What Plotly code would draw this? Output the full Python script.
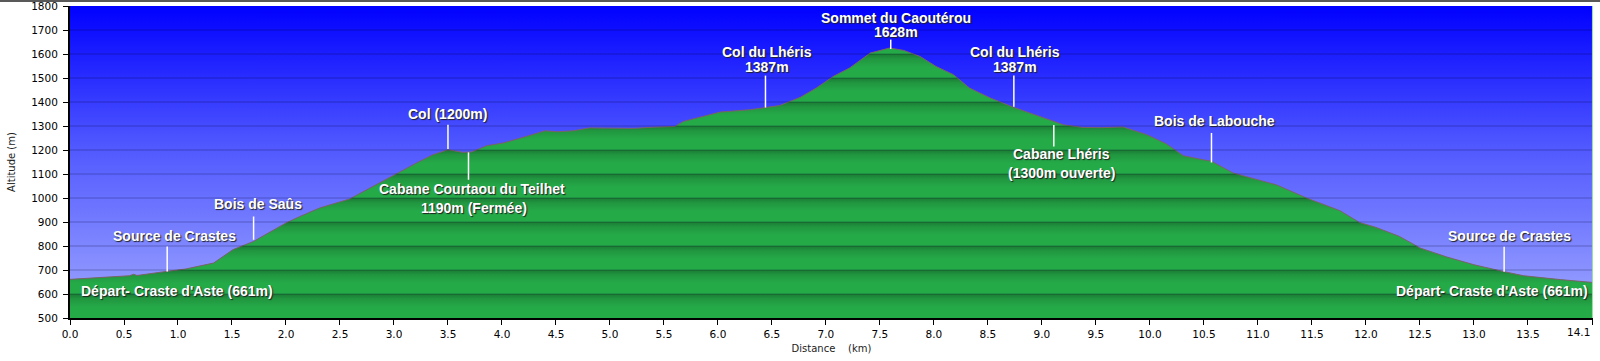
import plotly.graph_objects as go

# ---------------- data ----------------
distance_km = [0.00, 0.30, 0.55, 0.59, 0.62, 0.89, 1.07, 1.33, 1.51, 1.70, 2.00, 2.13, 2.31,
               2.59, 2.75, 3.06, 3.21, 3.36, 3.50, 3.64, 3.72, 3.86, 4.01, 4.23, 4.40, 4.51,
               4.66, 4.81, 4.97, 5.22, 5.40, 5.60, 5.68, 5.83, 6.02, 6.30, 6.44, 6.57, 6.76,
               6.91, 7.07, 7.22, 7.41, 7.59, 7.72, 7.87, 8.02, 8.18, 8.33, 8.52, 8.73, 8.92,
               9.07, 9.20, 9.38, 9.55, 9.75, 9.97, 10.15, 10.31, 10.46, 10.57, 10.77, 10.95,
               11.17, 11.45, 11.76, 11.94, 12.09, 12.31, 12.50, 12.75, 13.00, 13.27, 13.46,
               13.80, 14.10]
altitude_m = [661, 670, 676, 682, 677, 694, 704, 729, 785, 819, 896, 923, 958,
              996, 1035, 1108, 1146, 1180, 1201, 1190, 1192, 1218, 1229, 1257, 1280, 1276,
              1280, 1292, 1291, 1290, 1295, 1298, 1319, 1337, 1358, 1368, 1378, 1385, 1419,
              1458, 1507, 1542, 1604, 1625, 1615, 1590, 1548, 1514, 1458, 1417, 1379, 1350,
              1326, 1305, 1294, 1293, 1296, 1264, 1226, 1176, 1162, 1153, 1104, 1083,
              1055, 1000, 947, 898, 878, 840, 792, 754, 722, 694, 676,
              660, 648]

x_tick_vals = [0.0, 0.5, 1.0, 1.5, 2.0, 2.5, 3.0, 3.5, 4.0, 4.5, 5.0, 5.5, 6.0, 6.5, 7.0,
               7.5, 8.0, 8.5, 9.0, 9.5, 10.0, 10.5, 11.0, 11.5, 12.0, 12.5, 13.0, 13.5, 14.1]
x_tick_text = ["%.1f" % v for v in x_tick_vals]
y_tick_vals = [500, 600, 700, 800, 900, 1000, 1100, 1200, 1300, 1400, 1500, 1600, 1700, 1800]

label_text = ["Source de Crastes", "Bois de Saûs", "Départ- Craste d'Aste (661m)",
              "Col (1200m)", "Cabane Courtaou du Teilhet", "1190m (Fermée)",
              "Col du Lhéris", "1387m", "Sommet du Caoutérou", "1628m",
              "Col du Lhéris", "1387m", "Cabane Lhéris", "(1300m ouverte)",
              "Bois de Labouche", "Source de Crastes", "Départ- Craste d'Aste (661m)"]
label_km = [0.97, 1.74, 0.99, 3.50, 3.72, 3.74, 6.45, 6.45, 7.65, 7.65,
            8.75, 8.75, 9.18, 9.18, 10.60, 13.33, 13.17]
label_alt = [843, 976, 611, 1350, 1037, 957, 1608, 1546, 1750, 1692,
             1608, 1546, 1183, 1104, 1321, 843, 611]

stem_km = [0.90, 1.70, 3.50, 3.69, 6.44, 7.60, 8.74, 9.11, 10.57, 13.28]
stem_top = [798, 923, 1305, 1190, 1510, 1660, 1510, 1304, 1271, 797]
stem_bottom = [694, 826, 1204, 1076, 1377, 1621, 1380, 1215, 1148, 693]

# ---------------- figure ----------------
x_max = distance_km[-1]
y_min, y_max = y_tick_vals[0], y_tick_vals[-1]

# the last tick label is drawn separately, left-aligned to its tick as in the original
last_tick_label = x_tick_text[-1]
x_tick_text[-1] = ""

fig = go.Figure()

# sky background gradient
fig.add_trace(go.Scatter(
    x=[0, x_max, x_max, 0, 0], y=[y_min, y_min, y_max, y_max, y_min],
    mode="none", fill="toself",
    fillgradient=dict(type="vertical", start=y_min, stop=y_max,
                      colorscale=[[0, "rgb(160,168,255)"], [0.55, "rgb(80,88,255)"],
                                  [1, "rgb(0,0,255)"]]),
    hoverinfo="skip", showlegend=False))

# banded green terrain
n_bands = len(y_tick_vals) - 1
light, mid, dark = "rgb(37,170,72)", "rgb(33,150,63)", "rgb(26,122,52)"
green_scale = []
for k in range(n_bands):
    a, b = k / n_bands, (k + 1) / n_bands
    green_scale += [[a, light], [a + 0.45 * (b - a), light], [a + 0.8 * (b - a), mid],
                    [b - 1e-4, dark]]
green_scale[-1][0] = 1.0

fig.add_trace(go.Scatter(
    x=distance_km, y=altitude_m, mode="lines", fill="tozeroy",
    line=dict(color="rgb(120,100,100)", width=1),
    fillgradient=dict(type="vertical", start=y_min, stop=y_max, colorscale=green_scale),
    hoverinfo="skip", showlegend=False))

shapes = []
for v in y_tick_vals[1:-1]:
    shapes.append(dict(type="line", xref="x", yref="y", x0=0, x1=x_max, y0=v, y1=v,
                       line=dict(color="rgba(0,0,40,0.28)", width=1), layer="above"))
for sx, st, sb in zip(stem_km, stem_top, stem_bottom):
    shapes.append(dict(type="line", xref="x", yref="y", x0=sx, x1=sx, y0=sb, y1=st,
                       line=dict(color="white", width=1.5), layer="above"))
# right border light green
shapes.append(dict(type="line", xref="x", yref="y", x0=x_max, x1=x_max, y0=y_min, y1=y_max,
                   line=dict(color="rgb(150,225,160)", width=1.5), layer="above"))
# thin frame line at top of picture
shapes.append(dict(type="line", xref="paper", yref="paper", x0=-0.05, x1=1.01,
                   y0=1 + 5.0 / 312, y1=1 + 5.0 / 312, line=dict(color="#222", width=1.5)))

annotations = []
for t, xk, ya in zip(label_text, label_km, label_alt):
    annotations.append(dict(x=xk, y=ya, xref="x", yref="y", text=t, showarrow=False,
                            xanchor="center", yanchor="middle",
                            font=dict(family="Liberation Sans, Arial", size=14, color="white",
                                      weight="bold", shadow="1px 1px 1px #202020")))
annotations.append(dict(x=x_max, y=0, xref="x", yref="paper", text=last_tick_label,
                        showarrow=False, xanchor="right", yanchor="top", xshift=-1, yshift=-6,
                        font=dict(family="DejaVu Sans, Verdana", size=10.5, color="black")))

fig.update_layout(
    width=1600, height=361,
    margin=dict(l=70, r=7, t=6, b=43, autoexpand=False),
    paper_bgcolor="white", plot_bgcolor="white",
    shapes=shapes, annotations=annotations, showlegend=False,
    xaxis=dict(range=[0, x_max * 1.0002], tickvals=x_tick_vals, ticktext=x_tick_text,
               automargin=False, ticklabeloverflow="allow",
               showgrid=False, zeroline=False, showline=True, linecolor="black", linewidth=2,
               ticks="outside", ticklen=5, tickcolor="black", tickwidth=1,
               tickfont=dict(family="DejaVu Sans, Verdana", size=10.5, color="black"),
               title=dict(text="Distance\u00a0\u00a0\u00a0\u00a0(km)", standoff=6,
                          font=dict(family="DejaVu Sans, Verdana", size=10, color="#222"))),
    yaxis=dict(range=[y_min, y_max], tickvals=y_tick_vals, automargin=False,
               ticklabeloverflow="allow",
               showgrid=False, zeroline=False, showline=True, linecolor="black", linewidth=2,
               ticks="outside", ticklen=5, tickcolor="black", tickwidth=1,
               ticklabelstandoff=3,
               tickfont=dict(family="DejaVu Sans, Verdana", size=10.5, color="black"),
               title=dict(text="Altitude (m)", standoff=14,
                          font=dict(family="DejaVu Sans, Verdana", size=10, color="#222"))),
)

fig.write_html("out.html", config={"displayModeBar": False},
               post_script="document.body.style.margin='0';document.body.style.overflow='hidden';")
